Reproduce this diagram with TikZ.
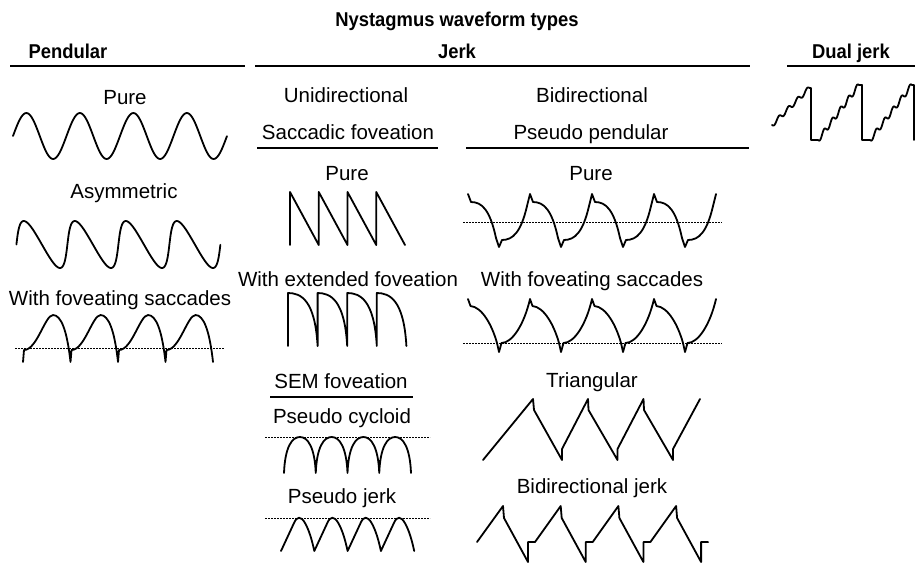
\documentclass[tikz,border=0pt]{standalone}
\usepackage{fontspec}
\setmainfont{Liberation Sans}
\usetikzlibrary{positioning}

\begin{document}
\begin{tikzpicture}[
  x=1pt, y=-1pt,
  lbl/.style={font=\fontsize{20.5}{24}\selectfont, anchor=base, inner sep=0pt},
  hdr/.style={font=\fontsize{20}{24}\selectfont\bfseries, anchor=base, inner sep=0pt,
              xscale=0.92, transform shape},
  rule/.style={line width=1.6pt},
  wave/.style={line width=1.8pt, line join=round, line cap=round},
  zero/.style={line width=1pt, dash pattern=on 2pt off 1pt},
]
\useasboundingbox (0,0) rectangle (915,563);

% headings
\node[hdr] (title) at (457,26) {Nystagmus waveform types};
\node[hdr] (pend) at (68,58) {Pendular};
\node[hdr] (jerk) at (457,58) {Jerk};
\node[hdr] (dual) at (851,58) {Dual jerk};
\draw[rule] (10,66) -- (245,66);
\draw[rule] (255,66) -- (750,66);
\draw[rule] (787,66) -- (915,66);

% Pendular
\node[lbl] (ppure) at (125,104) {Pure};
\draw[wave] plot[domain=0:4, samples=161] ({13+53.5*\x}, {136-23*sin(360*\x)});

\node[lbl] (pasym) at (124,198) {Asymmetric};
\draw[wave] plot[domain=0.25:4.25, samples=201]
  ({9+51*(\x-0.105*(1-cos(360*\x)))}, {244.5+23.5*cos(360*\x)});

\node[lbl] (pfov) at (120,305) {With foveating saccades};
\draw[zero] (15,348) -- (224,348);
\draw[wave] (23,362) \foreach \k [evaluate=\k as \d using 23+47.5*\k] in {0,...,3} {
  -- (\d+1,350) .. controls (\d+14,350) and (\d+22,315) .. (\d+30,315)
  .. controls (\d+38,315) and (\d+44,330) .. (\d+47.5,362)};

% Jerk, unidirectional
\node[lbl] (uni) at (346,102) {Unidirectional};
\node[lbl] (sacc) at (348,139) {Saccadic foveation};
\draw[rule] (257,148) -- (438,148);

\node[lbl] (upure) at (347,180) {Pure};
\draw[wave] (290,245) \foreach \k [evaluate=\k as \v using 290+28.75*\k] in {0,...,3} {
  -- (\v,192) -- (\v+28.75,245)};

\node[lbl] (uext) at (348,286) {With extended foveation};
\draw[wave] (288,346) \foreach \k [evaluate=\k as \v using 288+29.6*\k] in {0,...,3} {
  -- (\v,293) .. controls (\v+13,293) and (\v+27,300) .. (\v+29.6,346)};

\node[lbl] (sem) at (341,388) {SEM foveation};
\draw[rule] (270,397) -- (413,397);

\node[lbl] (cyc) at (342,423) {Pseudo cycloid};
\draw[zero] (265,437) -- (430,437);
\draw[wave] (284,473) \foreach \k [evaluate=\k as \v using 284+31.75*\k] in {0,...,3} {
  .. controls (\v+1,447) and (\v+8,437) .. (\v+15.9,437)
  .. controls (\v+23.7,437) and (\v+30.7,447) .. (\v+31.75,473)};

\node[lbl] (pjerk) at (342,503) {Pseudo jerk};
\draw[zero] (265,518) -- (430,518);
\draw[wave] (281,551) \foreach \k [evaluate=\k as \v using 281+33.3*\k] in {0,...,3} {
  -- (\v+13,523) .. controls (\v+16,516) and (\v+20,516) .. (\v+24,523)
  .. controls (\v+28,530) and (\v+31,540) .. (\v+33.3,551)};

% Jerk, bidirectional
\node[lbl] (bi) at (592,102) {Bidirectional};
\node[lbl] (pseu) at (591,139) {Pseudo pendular};
\draw[rule] (466,148) -- (749,148);

\node[lbl] (bpure) at (591,180) {Pure};
\draw[zero] (463,222) -- (722,222);
\draw[wave] (468,194) \foreach \k [evaluate=\k as \v using 468+62*\k] in {0,...,3} {
  -- (\v+3,202) .. controls (\v+14,202) and (\v+22,210) .. (\v+28,238)
  -- (\v+31,247) -- (\v+34,240)
  .. controls (\v+45,240) and (\v+53,232) .. (\v+59,206) -- (\v+62,194)};

\node[lbl] (bfov) at (592,286) {With foveating saccades};
\draw[zero] (463,343) -- (722,343);
\draw[wave] (468,299) \foreach \k [evaluate=\k as \v using 468+62*\k] in {0,...,3} {
  -- (\v+2.5,306) .. controls (\v+14,307) and (\v+24,325) .. (\v+29,343)
  -- (\v+31,352) -- (\v+33.5,343)
  .. controls (\v+44,343) and (\v+56,325) .. (\v+62,299)};

\node[lbl] (tri) at (592,387) {Triangular};
\draw[wave] (483,460) -- (533,399) -- (534,410) -- (562,460)
  \foreach \k [evaluate=\k as \v using 562+55.5*\k] in {0,1} {
  -- (\v,449) -- (\v+26,399) -- (\v+26.5,410) -- (\v+55.5,460)}
  -- (673,449) -- (700,399);

\node[lbl] (bjerk) at (592,493) {Bidirectional jerk};
\draw[wave] (477,542) \foreach \k [evaluate=\k as \v using 503+57.7*\k] in {0,...,3} {
  -- (\v,506) -- (\v+1,518) -- (\v+25,562) -- (\v+25,542) -- (\v+32,542)};

% Dual jerk
\draw[wave] plot[domain=0:37.5, samples=120]
    ({772+\x}, {125-0.987*(\x-1.6*1.492*sin(360*\x/9.375))})
  -- (811,88) -- (811,140) -- (818,140)
  -- plot[domain=0:41, samples=120]
    ({818+\x}, {140-1.341*(\x-1.6*1.305*sin(360*\x/8.2))})
  -- (862,85) -- (862,140) -- (870,140)
  -- plot[domain=0:42, samples=120]
    ({870+\x}, {140-1.31*(\x-1.6*1.337*sin(360*\x/8.4))})
  -- (914,85) -- (914,140);
\end{tikzpicture}
\end{document}
